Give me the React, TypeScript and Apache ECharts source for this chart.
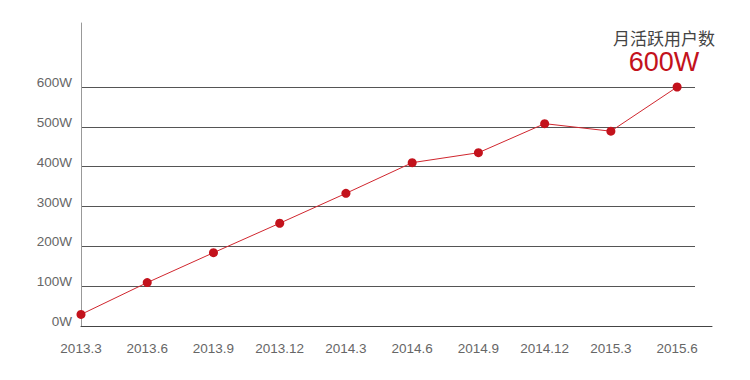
import React, { useEffect, useRef } from "react";
import * as echarts from "echarts";

const categories = ["2013.3", "2013.6", "2013.9", "2013.12", "2014.3", "2014.6", "2014.9", "2014.12", "2015.3", "2015.6"];
const users = [29, 109, 184, 258, 333, 410, 435, 508, 489, 600];
const titleText = "月活跃用户数";
const highlightText = "600W";

export default function App() {
  const ref = useRef<HTMLDivElement>(null);
  useEffect(() => {
    document.body.style.margin = "0";
    if (!ref.current) return;
    const chart = echarts.init(ref.current, null, { renderer: "svg" });
    const font = "Arial, 'Liberation Sans', Helvetica, sans-serif";
    chart.setOption({
      animation: false,
      grid: [
        { left: 81, right: 55, top: 87, bottom: 54 },
        { left: 81, right: 38, top: 23, bottom: 54 },
      ],
      xAxis: [
        {
          type: "value",
          gridIndex: 0,
          min: 0,
          max: 9.27,
          interval: 1,
          axisLine: { show: false },
          axisTick: { show: false },
          splitLine: { show: false },
          axisLabel: {
            margin: 15,
            color: "#666",
            fontSize: 13.5,
            fontFamily: font,
            showMaxLabel: false,
            formatter: (v: number) => (Number.isInteger(v) && categories[v] !== undefined ? categories[v] : ""),
          },
        },
        {
          type: "value",
          gridIndex: 1,
          min: 0,
          max: 1,
          axisLine: { show: true, lineStyle: { color: "#444", width: 1 } },
          axisTick: { show: false },
          axisLabel: { show: false },
          splitLine: { show: false },
        },
      ],
      yAxis: [
        {
          type: "value",
          gridIndex: 0,
          min: 0,
          max: 600,
          interval: 100,
          axisLine: { show: false },
          axisTick: { show: false },
          axisLabel: {
            margin: 9,
            color: "#666",
            fontSize: 13.5,
            fontFamily: font,
            verticalAlign: "bottom",
            lineHeight: 9,
            formatter: (v: number) => v + "W",
          },
          splitLine: { show: true, showMinLine: false, lineStyle: { color: "#555", width: 1 } },
        },
        {
          type: "value",
          gridIndex: 1,
          min: 0,
          max: 1,
          axisLine: { show: true, lineStyle: { color: "#999", width: 1 } },
          axisTick: { show: false },
          axisLabel: { show: false },
          splitLine: { show: false },
        },
      ],
      graphic: [
        {
          type: "text",
          x: 664,
          y: 37,
          style: {
            text: titleText,
            fill: "#444",
            fontSize: 17,
            fontFamily: "'Noto Sans CJK SC', sans-serif",
            textAlign: "center",
            textVerticalAlign: "middle",
          },
        },
        {
          type: "text",
          x: 664,
          y: 62,
          style: {
            text: highlightText,
            fill: "#c3121c",
            fontSize: 27,
            fontFamily: font,
            textAlign: "center",
            textVerticalAlign: "middle",
          },
        },
      ],
      series: [
        {
          type: "line",
          xAxisIndex: 0,
          yAxisIndex: 0,
          data: users.map((v, i) => [i, v]),
          symbol: "circle",
          symbolSize: 9,
          lineStyle: { color: "#d0262e", width: 1 },
          itemStyle: { color: "#c3121c" },
          clip: false,
          z: 5,
        },
      ],
    });
    return () => chart.dispose();
  }, []);
  return <div ref={ref} style={{ width: 750, height: 380 }} />;
}
